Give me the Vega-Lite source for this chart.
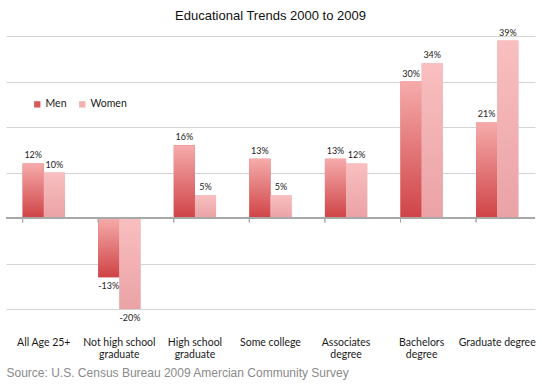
{
  "$schema": "https://vega.github.io/schema/vega-lite/v6.json",
  "width": 529,
  "height": 273,
  "autosize": {"type": "none"},
  "padding": {"left": 6, "top": 36, "right": 7, "bottom": 78},
  "background": "white",
  "title": {
    "text": "Educational Trends 2000 to 2009",
    "font": "Liberation Sans",
    "fontSize": 13,
    "fontWeight": "normal",
    "color": "#111111",
    "anchor": "middle",
    "frame": "group",
    "offset": 6
  },
  "data": {
    "values": [
      {"level": "All Age 25+", "sex": "Men", "change": 0.12},
      {"level": "All Age 25+", "sex": "Women", "change": 0.10},
      {"level": "Not high school graduate", "sex": "Men", "change": -0.13},
      {"level": "Not high school graduate", "sex": "Women", "change": -0.20},
      {"level": "High school graduate", "sex": "Men", "change": 0.16},
      {"level": "High school graduate", "sex": "Women", "change": 0.05},
      {"level": "Some college", "sex": "Men", "change": 0.13},
      {"level": "Some college", "sex": "Women", "change": 0.05},
      {"level": "Associates degree", "sex": "Men", "change": 0.13},
      {"level": "Associates degree", "sex": "Women", "change": 0.12},
      {"level": "Bachelors degree", "sex": "Men", "change": 0.30},
      {"level": "Bachelors degree", "sex": "Women", "change": 0.34},
      {"level": "Graduate degree", "sex": "Men", "change": 0.21},
      {"level": "Graduate degree", "sex": "Women", "change": 0.39}
    ]
  },
  "encoding": {
    "x": {
      "field": "level",
      "type": "nominal",
      "sort": null,
      "scale": {"paddingInner": 0.44, "paddingOuter": 0.22},
      "axis": {
        "orient": "bottom",
        "domain": false,
        "ticks": false,
        "labelAngle": 0,
        "labelFont": "Lato",
        "labelFontSize": 10.5,
        "labelColor": "#1a1a1a",
        "labelPadding": 28,
        "labelLineHeight": 12,
        "labelBaseline": "top",
        "labelExpr": "datum.value == 'Not high school graduate' ? ['Not high school', 'graduate'] : datum.value == 'High school graduate' ? ['High school', 'graduate'] : datum.value == 'Associates degree' ? ['Associates', 'degree'] : datum.value == 'Bachelors degree' ? ['Bachelors', 'degree'] : datum.label",
        "title": "Source: U.S. Census Bureau 2009 Amercian Community Survey",
        "titleAnchor": "start",
        "titleAlign": "left",
        "titleFont": "Liberation Sans",
        "titleFontSize": 12,
        "titleFontWeight": "normal",
        "titleColor": "#8a8a8a",
        "titlePadding": 8
      }
    },
    "xOffset": {"field": "sex", "type": "nominal", "scale": {"paddingInner": 0, "paddingOuter": 0}},
    "y": {
      "field": "change",
      "type": "quantitative",
      "scale": {"domain": [-0.2, 0.4], "nice": false, "zero": false},
      "axis": {
        "values": [-0.2, -0.1, 0, 0.1, 0.2, 0.3, 0.4],
        "labels": false,
        "ticks": false,
        "domain": false,
        "title": null,
        "grid": true,
        "gridColor": "#d4d4d4",
        "gridWidth": 1
      }
    }
  },
  "layer": [
    {
      "mark": {"type": "bar"},
      "encoding": {
        "color": {
          "field": "sex",
          "type": "nominal",
          "scale": {"domain": ["Men", "Women"], "range": ["#d9585b", "#f2b2b3"]},
          "legend": {
            "orient": "none",
            "legendX": 26,
            "legendY": 63,
            "direction": "horizontal",
            "title": null,
            "symbolType": "square",
            "symbolSize": 40,
            "labelFont": "Lato",
            "labelFontSize": 10.5,
            "labelColor": "#1a1a1a",
            "columnPadding": 10,
            "labelOffset": 3
          }
        }
      }
    },
    {
      "transform": [{"filter": "datum.sex == 'Men'"}],
      "mark": {
        "type": "bar",
        "fill": {
          "gradient": "linear",
          "x1": 0, "y1": 0, "x2": 0, "y2": 1,
          "stops": [
            {"offset": 0, "color": "#f6abab"},
            {"offset": 1, "color": "#cf4346"}
          ]
        }
      }
    },
    {
      "transform": [{"filter": "datum.sex == 'Women'"}],
      "mark": {
        "type": "bar",
        "fill": {
          "gradient": "linear",
          "x1": 0, "y1": 0, "x2": 0, "y2": 1,
          "stops": [
            {"offset": 0, "color": "#f9bfc0"},
            {"offset": 1, "color": "#eaa2a5"}
          ]
        }
      }
    },
    {
      "mark": {"type": "rule", "color": "#a8a8a8", "strokeWidth": 1},
      "encoding": {"y": {"datum": 0}, "x": null, "xOffset": null}
    },
    {
      "mark": {"type": "rule", "color": "#a8a8a8", "strokeWidth": 1},
      "encoding": {
        "x": {"field": "level", "type": "nominal", "sort": null, "bandPosition": 0},
        "xOffset": null,
        "y": {"datum": 0},
        "y2": {"datum": -0.01}
      }
    },
    {
      "transform": [{"filter": "datum.change >= 0"}],
      "mark": {"type": "text", "baseline": "bottom", "dy": -3, "font": "Lato", "fontSize": 9, "color": "#222222"},
      "encoding": {"text": {"field": "change", "type": "quantitative", "format": ".0%"}}
    },
    {
      "transform": [{"filter": "datum.change < 0"}],
      "mark": {"type": "text", "baseline": "top", "dy": 5, "font": "Lato", "fontSize": 9, "color": "#222222"},
      "encoding": {"text": {"field": "change", "type": "quantitative", "format": ".0%"}}
    }
  ],
  "config": {
    "view": {"stroke": null},
    "locale": {"number": {"decimal": ".", "thousands": ",", "grouping": [3], "currency": ["$", ""], "minus": "-"}}
  }
}
